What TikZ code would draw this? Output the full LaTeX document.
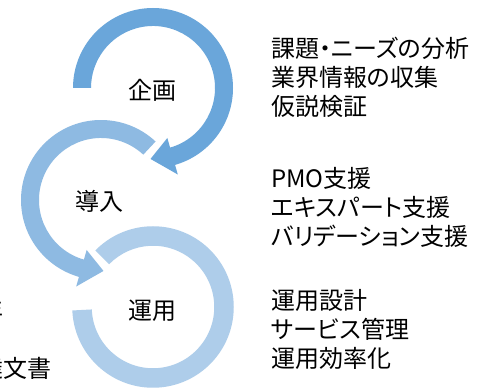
\documentclass[tikz,border=0pt]{standalone}
\usepackage{fontspec}
\usepackage{tikz}
\setmainfont{Noto Sans CJK JP}[RawFeature={+palt}]
\definecolor{kb}{RGB}{106, 166, 218}
\definecolor{db}{RGB}{142, 186, 226}
\definecolor{ub}{RGB}{174, 205, 234}

\begin{document}
\begin{tikzpicture}[x = 1pt, y = 1pt, ring/.style = {draw = white, line width = 1.5pt},
  lbl/.style = {inner sep = 0pt, font = \fontsize{24}{29}\selectfont},
  txt/.style = {lbl, anchor = west, align = left}]
\clip (0,0) rectangle (488,388);
\fill[white] (0,0) rectangle (488,388);
\fill[ring, ub, shift = {(153,81)}] (135:80) arc[start angle = 135, end angle = -177, radius = 80] -- (-177:62) arc[start angle = -177, end angle = 135, radius = 62] -- cycle;
\draw[white, line width = 1.5pt, shift = {(101,188)}] (47:80) arc[start angle = 47, end angle = 254, radius = 80] -- (254:90) -- (272:71) -- (254:52) -- (254:62) arc[start angle = 254, end angle = 47, radius = 62] -- cycle;
\fill[db, shift = {(101,188)}] (47:80) arc[start angle = 47, end angle = 254, radius = 80] -- (254:90) -- (272:71) -- (254:52) -- (254:62) arc[start angle = 254, end angle = 47, radius = 62] -- cycle;
\draw[white, line width = 1.5pt, shift = {(153,300)}] (180:80) arc[start angle = 180, end angle = -74, radius = 80] -- (-74:90) -- (-92:71) -- (-74:52) -- (-74:62) arc[start angle = -74, end angle = 180, radius = 62] -- cycle;
\fill[kb, shift = {(153,300)}] (180:80) arc[start angle = 180, end angle = -74, radius = 80] -- (-74:90) -- (-92:71) -- (-74:52) -- (-74:62) arc[start angle = -74, end angle = 180, radius = 62] -- cycle;
\node[lbl] (kikaku) at (152,298) {企画};
\node[lbl] (donyu) at (99,187) {導入};
\node[lbl] (unyo) at (152,77) {運用};
\node[txt] (kikakutxt) at (271,311) {課題・ニーズの分析\\業界情報の収集\\仮説検証};
\node[txt] (donyutxt) at (271,181) {PMO支援\\エキスパート支援\\バリデーション支援};
\node[txt] (unyotxt) at (271,59) {運用設計\\サービス管理\\運用効率化};
\node[lbl, anchor = east] (hidari1) at (4,78) {年};
\node[lbl, anchor = east] (hidari2) at (52,20) {調達文書};
\end{tikzpicture}
\end{document}
